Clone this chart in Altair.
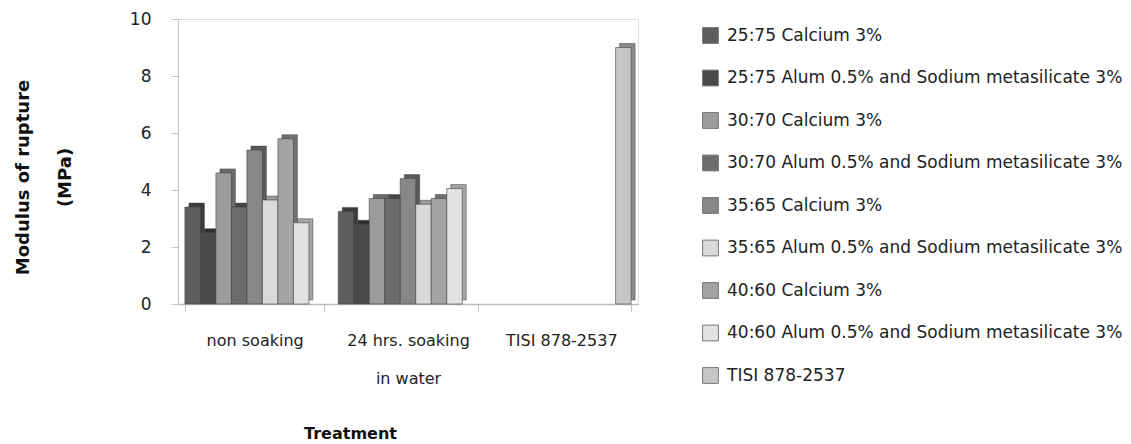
import altair as alt
import pandas as pd

# Treatments on the x axis
treatments = ["non soaking", "24 hrs. soaking in water", "TISI 878-2537"]

# Mixtures (legend order)
series = [
    "25:75 Calcium 3%",
    "25:75 Alum 0.5% and Sodium metasilicate 3%",
    "30:70 Calcium 3%",
    "30:70 Alum 0.5% and Sodium metasilicate 3%",
    "35:65 Calcium 3%",
    "35:65 Alum 0.5% and Sodium metasilicate 3%",
    "40:60 Calcium 3%",
    "40:60 Alum 0.5% and Sodium metasilicate 3%",
    "TISI 878-2537",
]

# Modulus of rupture (MPa) per mixture
non_soaking = [3.4, 2.5, 4.6, 3.4, 5.4, 3.65, 5.8, 2.85]
soaking_24h = [3.25, 2.8, 3.7, 3.7, 4.4, 3.5, 3.7, 4.05]
tisi_standard = [9.0]

rows = []
for s, v in zip(series[:8], non_soaking):
    rows.append({"treatment": treatments[0], "series": s, "mor": v})
for s, v in zip(series[:8], soaking_24h):
    rows.append({"treatment": treatments[1], "series": s, "mor": v})
rows.append({"treatment": treatments[2], "series": series[8], "mor": tisi_standard[0]})
df = pd.DataFrame(rows)

face_colors = ["#5e5e5e", "#4a4a4a", "#9c9c9c", "#6c6c6c", "#878787",
               "#d9d9d9", "#a4a4a4", "#e2e2e2", "#c6c6c6"]
side_colors = ["#3a3a3a", "#2e2e2e", "#6a6a6a", "#464646", "#5a5a5a",
               "#9a9a9a", "#707070", "#a4a4a4", "#8a8a8a"]

FONT = "DejaVu Sans"
PLOT_W = 460
# band width of one treatment group (paddingInner 0.09, paddingOuter 0.045)
GROUP_W = PLOT_W / 3.0 * 0.91
DEPTH = 4

x_enc = alt.X(
    "treatment:N",
    sort=treatments,
    scale=alt.Scale(domain=treatments, paddingInner=0.09, paddingOuter=0.045),
    axis=alt.Axis(
        title="Treatment",
        labelAngle=0,
        labelFontSize=16,
        labelColor="#222222",
        labelPadding=20,
        labelLineHeight=38,
        labelExpr="datum.value == '24 hrs. soaking in water' ? ['24 hrs. soaking', 'in water'] : datum.value",
        tickBand="extent",
        tickSize=8,
        tickColor="#c4c4c4",
        domainColor="#bbbbbb",
        domainWidth=1.5,
        titleFontSize=16,
        titleFontWeight="bold",
        titleColor="#111111",
        titleX=172,
        titleY=134,
        titleAlign="center",
        titleBaseline="alphabetic",
    ),
)
y_enc = alt.Y(
    "mor:Q",
    scale=alt.Scale(domain=[0, 10]),
    axis=alt.Axis(
        values=[0, 2, 4, 6, 8, 10],
        grid=False,
        title=["Modulus of rupture", "(MPa)"],
        titleFontSize=18,
        titleFontWeight="bold",
        titleColor="#111111",
        titleLineHeight=42,
        titleAngle=-90,
        titleX=-150,
        titleY=158,
        titleAlign="center",
        titleBaseline="alphabetic",
        labelFontSize=17,
        labelColor="#222222",
        labelPadding=20,
        tickSize=7,
        tickColor="#c4c4c4",
        domainColor="#c4c4c4",
    ),
)

# Depth faces drawn behind, shifted up and to the right
depth = alt.Chart(df).mark_bar(yOffset=-DEPTH, stroke="#444444", strokeWidth=0.5).encode(
    x=x_enc,
    xOffset=alt.XOffset(
        "series:N", sort=series,
        scale=alt.Scale(domain=series, range=[DEPTH, GROUP_W + DEPTH]),
    ),
    y=y_enc,
    color=alt.Color("series:N", scale=alt.Scale(domain=series, range=side_colors), legend=None),
)

front = alt.Chart(df).mark_bar(stroke="#444444", strokeWidth=0.6).encode(
    x=x_enc,
    xOffset=alt.XOffset(
        "series:N", sort=series,
        scale=alt.Scale(domain=series, range=[0, GROUP_W]),
    ),
    y=y_enc,
    fill=alt.Fill(
        "series:N",
        scale=alt.Scale(domain=series, range=face_colors),
        legend=alt.Legend(
            title=None,
            orient="none",
            legendX=524,
            legendY=8,
            padding=0,
            symbolType="square",
            symbolSize=250,
            symbolStrokeColor="#777777",
            symbolStrokeWidth=1,
            labelFontSize=17,
            labelColor="#222222",
            labelOffset=8,
            labelLimit=500,
            rowPadding=21.5,
        ),
    ),
)

chart = (
    alt.layer(depth, front)
    .resolve_scale(color="independent", fill="independent", xOffset="independent")
    .properties(
        width=PLOT_W,
        height=285,
        autosize=alt.AutoSizeParams(type="none"),
        padding={"left": 178, "top": 19, "right": 493, "bottom": 140},
        background="white",
    )
    .configure_view(stroke=None)
    .configure(font=FONT)
)

chart.save("out.html", embed_options={"renderer": "svg", "actions": False})
